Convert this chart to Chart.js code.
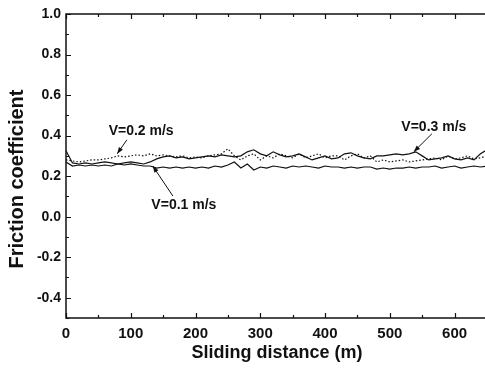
<!DOCTYPE html>
<html>
<head>
<meta charset="utf-8">
<script src="https://cdn.jsdelivr.net/npm/chart.js@4.4.1/dist/chart.umd.min.js"></script>
<style>
html,body{margin:0;padding:0;background:#fff;}
#wrap{width:485px;height:374px;}
</style>
</head>
<body>
<div id="wrap"><canvas id="chart" width="485" height="374"></canvas></div>
<script>
// sliding distance (m), read every 10 m
var distance = [0,10,20,30,40,50,60,70,80,90,
	100,110,120,130,140,150,160,170,180,190,
	200,210,220,230,240,250,260,270,280,290,
	300,310,320,330,340,350,360,370,380,390,
	400,410,420,430,440,450,460,470,480,490,
	500,510,520,530,540,550,560,570,580,590,
	600,610,620,630,640,650];

// V=0.1 m/s
var v01 = [0.27,0.25,0.255,0.25,0.255,0.25,0.255,0.25,0.26,0.255,
	0.26,0.255,0.25,0.25,0.24,0.245,0.24,0.245,0.24,0.245,
	0.24,0.245,0.24,0.25,0.245,0.255,0.27,0.24,0.26,0.23,
	0.245,0.24,0.25,0.245,0.24,0.25,0.245,0.25,0.245,0.24,
	0.25,0.245,0.245,0.24,0.245,0.24,0.245,0.245,0.235,0.24,
	0.235,0.24,0.24,0.245,0.24,0.245,0.245,0.25,0.24,0.245,
	0.25,0.24,0.245,0.25,0.245,0.25];

// V=0.2 m/s (dotted)
var v02 = [0.28,0.275,0.27,0.275,0.28,0.28,0.285,0.29,0.30,0.295,
	0.30,0.305,0.30,0.31,0.30,0.305,0.30,0.295,0.30,0.29,
	0.295,0.29,0.30,0.305,0.31,0.335,0.30,0.28,0.30,0.31,
	0.28,0.30,0.29,0.31,0.30,0.29,0.31,0.29,0.30,0.31,
	0.29,0.30,0.30,0.28,0.30,0.31,0.29,0.30,0.27,0.28,
	0.27,0.275,0.28,0.27,0.275,0.28,0.285,0.29,0.28,0.30,
	0.285,0.29,0.30,0.285,0.29,0.30];

// V=0.3 m/s
var v03 = [0.325,0.265,0.26,0.265,0.26,0.265,0.27,0.265,0.26,0.265,
	0.27,0.265,0.26,0.27,0.285,0.295,0.30,0.29,0.295,0.285,
	0.29,0.295,0.30,0.295,0.305,0.30,0.295,0.30,0.32,0.33,
	0.31,0.30,0.32,0.305,0.295,0.30,0.31,0.295,0.28,0.29,
	0.30,0.285,0.29,0.31,0.315,0.30,0.29,0.285,0.30,0.30,
	0.305,0.31,0.305,0.31,0.32,0.30,0.28,0.285,0.29,0.30,
	0.285,0.28,0.29,0.28,0.31,0.33];

var xTicks = [0,100,200,300,400,500,600];
var yTicks = [-0.4,-0.2,0.0,0.2,0.4,0.6,0.8,1.0];

// labels with arrows, in data units
var notes = [
	{ text: "V=0.2 m/s", x: 116, y: 0.423, fromX: 94,  fromY: 0.379, toX: 79,  toY: 0.31 },
	{ text: "V=0.1 m/s", x: 182, y: 0.058, fromX: 165, fromY: 0.102, toX: 134, toY: 0.25 },
	{ text: "V=0.3 m/s", x: 568, y: 0.443, fromX: 565, fromY: 0.409, toX: 537, toY: 0.32 }
];

var FONT = "'Liberation Sans', Arial, sans-serif";
var INK = "#111";

var toPoints = function( xs, ys ){
	var list = [], i;
	for( i=0; i<xs.length; i++ ){
		list.push({ x: xs[i], y: ys[i] });
	}
	return list;
};

// frame, inward ticks, axis titles and notes
var framePlugin = {
	id: "frame",
	afterDatasetsDraw: function( chart ){
		var ctx = chart.ctx, a = chart.chartArea;
		var xs = chart.scales.x, ys = chart.scales.y;
		var v, px, py, len, i;
		ctx.save();
		ctx.strokeStyle = INK;
		ctx.lineWidth = 1.5;
		ctx.strokeRect( a.left, a.top, a.right - a.left + 3, a.bottom - a.top );

		ctx.lineWidth = 1.2;
		ctx.beginPath();
		for( v=0; v<=650; v+=50 ){
			len = (v % 100 === 0) ? 5 : 3;
			px = Math.round( xs.getPixelForValue(v) ) + 0.5;
			ctx.moveTo( px, a.bottom ); ctx.lineTo( px, a.bottom - len );
			ctx.moveTo( px, a.top );    ctx.lineTo( px, a.top + len );
		}
		for( i=-5; i<=10; i++ ){
			len = (i % 2 === 0) ? 5 : 3;
			py = Math.round( ys.getPixelForValue(i/10) ) + 0.5;
			ctx.moveTo( a.left, py ); ctx.lineTo( a.left + len, py );
		}
		ctx.stroke();

		// axis titles
		ctx.fillStyle = INK;
		ctx.textAlign = "center";
		ctx.textBaseline = "middle";
		ctx.font = "bold 18px " + FONT;
		ctx.fillText( "Sliding distance (m)", 277, 353 );
		ctx.save();
		ctx.translate( 17, 179 );
		ctx.rotate( -Math.PI/2 );
		ctx.font = "bold 20px " + FONT;
		ctx.fillText( "Friction coefficient", 0, 0 );
		ctx.restore();

		// notes with arrows
		ctx.font = "bold 14px " + FONT;
		notes.forEach(function( n ){
			var tx = xs.getPixelForValue(n.x), ty = ys.getPixelForValue(n.y);
			var x1 = xs.getPixelForValue(n.fromX), y1 = ys.getPixelForValue(n.fromY);
			var x2 = xs.getPixelForValue(n.toX),   y2 = ys.getPixelForValue(n.toY);
			var ang = Math.atan2( y2 - y1, x2 - x1 ), h = 7;
			ctx.fillText( n.text, tx, ty );
			ctx.lineWidth = 1;
			ctx.beginPath();
			ctx.moveTo( x1, y1 ); ctx.lineTo( x2, y2 );
			ctx.stroke();
			ctx.beginPath();
			ctx.moveTo( x2, y2 );
			ctx.lineTo( x2 - h*Math.cos(ang - 0.35), y2 - h*Math.sin(ang - 0.35) );
			ctx.lineTo( x2 - h*Math.cos(ang + 0.35), y2 - h*Math.sin(ang + 0.35) );
			ctx.closePath();
			ctx.fill();
		});
		ctx.restore();
	}
};

var lineSet = function( label, values, dash ){
	return {
		label: label,
		data: toPoints( distance, values ),
		borderColor: INK,
		borderWidth: 1.2,
		borderDash: dash,
		pointRadius: 0,
		tension: 0,
		fill: false
	};
};

var chart = new Chart( document.getElementById("chart").getContext("2d"), {
	type: "line",
	data: {
		datasets: [
			lineSet( "V=0.1 m/s", v01, [] ),
			lineSet( "V=0.2 m/s", v02, [1.5, 2] ),
			lineSet( "V=0.3 m/s", v03, [] )
		]
	},
	options: {
		responsive: false,
		animation: false,
		layout: { autoPadding: false, padding: { top: 14, right: 0, bottom: 0, left: 0 } },
		plugins: { legend: { display: false }, tooltip: { enabled: false } },
		scales: {
			x: {
				type: "linear",
				min: 0, max: 647,
				grid: { display: false, drawTicks: false },
				border: { display: false },
				afterFit: function( s ){ s.height = 56; },
				afterBuildTicks: function( s ){ s.ticks = xTicks.map(function(v){ return { value: v }; }); },
				ticks: {
					padding: 7,
					color: INK,
					maxRotation: 0,
					font: { family: FONT, size: 15, weight: "bold" },
					callback: function( v ){ return String(v); }
				}
			},
			y: {
				min: -0.5, max: 1.0,
				grid: { display: false, drawTicks: false },
				border: { display: false },
				afterFit: function( s ){ s.width = 66; },
				afterBuildTicks: function( s ){ s.ticks = yTicks.map(function(v){ return { value: v }; }); },
				ticks: {
					padding: 5,
					color: INK,
					font: { family: FONT, size: 14, weight: "bold" },
					callback: function( v ){ return Number(v).toFixed(1); }
				}
			}
		}
	},
	plugins: [ framePlugin ]
});
</script>
</body>
</html>
